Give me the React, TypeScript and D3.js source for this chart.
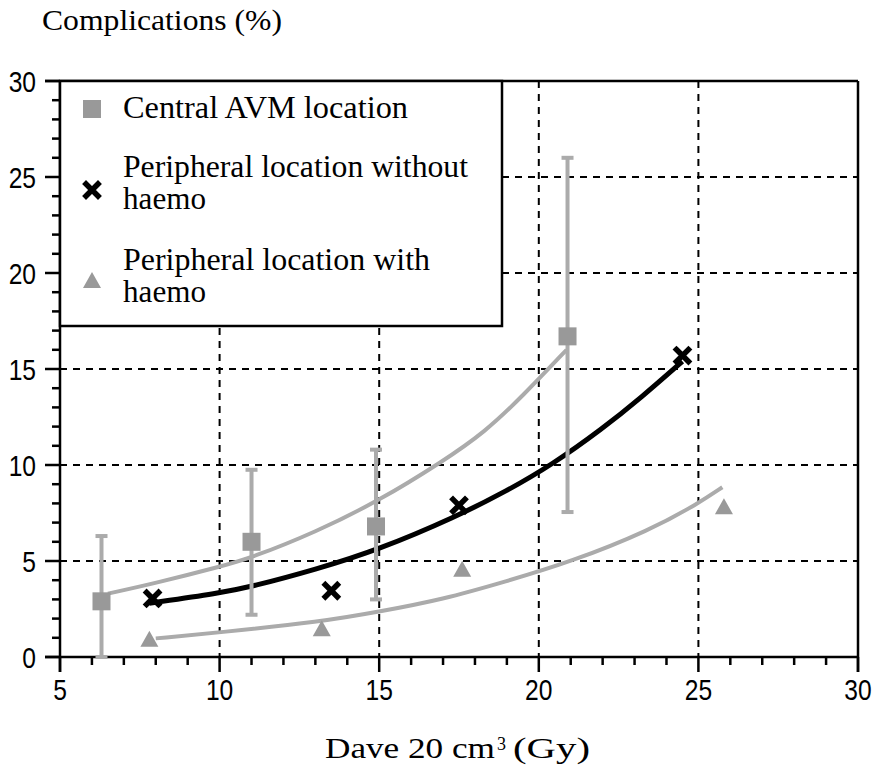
import React from "react";
import * as d3 from "d3";

// Central AVM location: dose (Gy), complication rate (%) with error range
const centralX = [6.3, 11.0, 14.9, 20.9];
const centralY = [2.9, 6.0, 6.8, 16.7];
const centralLow = [0.0, 2.2, 3.0, 7.55];
const centralHigh = [6.3, 9.75, 10.8, 26.0];

// Peripheral location without haemorrhage
const periNoHaemoX = [7.9, 13.5, 17.5, 24.5];
const periNoHaemoY = [3.05, 3.45, 7.9, 15.7];

// Peripheral location with haemorrhage
const periHaemoX = [7.8, 13.2, 17.6, 25.8];
const periHaemoY = [0.9, 1.45, 4.55, 7.8];

// Fitted trend curves (sampled)
const centralFitX = [6.5, 8, 10, 11, 13, 15, 17, 18.3, 19.5, 20.87];
const centralFitY = [3.3, 3.85, 4.7, 5.17, 6.5, 8.14, 10.2, 11.7, 13.6, 16.0];
const noHaemoFitX = [7.8, 10, 11, 13, 15, 17.4, 19, 20.4, 22, 23.2, 24.5];
const noHaemoFitY = [2.8, 3.33, 3.66, 4.55, 5.6, 7.3, 8.65, 10.0, 11.9, 13.5, 15.4];
const haemoFitX = [8, 10, 13.2, 15, 17, 18.94, 21, 23.48, 25, 25.75];
const haemoFitY = [0.97, 1.28, 1.84, 2.36, 3.0, 3.92, 4.95, 6.6, 8.0, 8.84];

const xTicks = [5, 10, 15, 20, 25, 30];
const yTicks = [0, 5, 10, 15, 20, 25, 30];

const legendLabels = [
  ["Central AVM location"],
  ["Peripheral location without", "haemo"],
  ["Peripheral location with", "haemo"],
];

const W = 873;
const H = 770;
const serif = "'Liberation Serif', 'Times New Roman', serif";
const sans = "'Liberation Sans', Arial, sans-serif";
const GREY_MARK = "#999999";
const GREY_LINE = "#ababab";

export default function App() {
  const x = d3.scaleLinear().domain([5, 30]).range([60, 858]);
  const y = d3.scaleLinear().domain([0, 30]).range([657, 81]);

  const line = (xs: number[], ys: number[]) =>
    d3
      .line<number>()
      .x((_, i) => x(xs[i]))
      .y((_, i) => y(ys[i]))
      .curve(d3.curveBasis)(xs.map((_, i) => i)) || "";

  const minorX = d3.range(5, 31, 1);
  const minorY = d3.range(0, 31, 1);

  const square = (cx: number, cy: number, key: string) => (
    <rect key={key} x={cx - 9} y={cy - 9} width={18} height={18} fill={GREY_MARK} />
  );
  const cross = (cx: number, cy: number, key: string) => (
    <path
      key={key}
      d={`M${cx - 6},${cy - 6}L${cx + 6},${cy + 6}M${cx + 6},${cy - 6}L${cx - 6},${cy + 6}`}
      stroke="#000"
      strokeWidth={5.5}
      strokeLinecap="square"
      fill="none"
    />
  );
  const triangle = (cx: number, cy: number, key: string) => (
    <path
      key={key}
      d={`M${cx},${cy - 9}L${cx + 9},${cy + 7}L${cx - 9},${cy + 7}Z`}
      fill={GREY_MARK}
    />
  );

  const gridX = xTicks.filter((v) => v > 5 && v < 30);
  const gridY = yTicks.filter((v) => v > 0 && v < 30);

  return (
    <svg
      width={W}
      height={H}
      style={{ display: "block", position: "fixed", left: 0, top: 0 }}
    >
      <rect width={W} height={H} fill="#fff" />

      {/* grid */}
      <g stroke="#000" strokeWidth={2} strokeDasharray="7,6">
        {gridX.map((v) => (
          <line key={`gx${v}`} x1={x(v)} x2={x(v)} y1={y(30)} y2={y(0)} />
        ))}
        {gridY.map((v) => (
          <line key={`gy${v}`} x1={x(5)} x2={x(30)} y1={y(v)} y2={y(v)} />
        ))}
      </g>

      {/* frame */}
      <g stroke="#000" strokeWidth={2.5} fill="none">
        <line x1={x(5) - 15} x2={x(30)} y1={y(30)} y2={y(30)} />
        <line x1={x(30)} x2={x(30)} y1={y(30)} y2={y(0) + 15} />
        <line x1={x(5) - 15} x2={x(30)} y1={y(0)} y2={y(0)} />
        <line x1={x(5)} x2={x(5)} y1={y(30)} y2={y(0) + 15} />
      </g>

      {/* ticks */}
      <g stroke="#000" strokeWidth={2.5}>
        {minorX.map((v) => (
          <line key={`tx${v}`} x1={x(v)} x2={x(v)} y1={y(0)} y2={y(0) + (v % 5 === 0 ? 15 : 8)} />
        ))}
        {minorY.map((v) => (
          <line key={`ty${v}`} x1={x(5) - (v % 5 === 0 ? 15 : 8)} x2={x(5)} y1={y(v)} y2={y(v)} />
        ))}
      </g>

      {/* tick labels */}
      <g fontFamily={sans} fontSize={30} fill="#000">
        {yTicks.map((v) => (
          <g key={`ly${v}`} transform={`translate(36,${y(v) + 11}) scale(0.82,1)`}>
            <text textAnchor="end">{v}</text>
          </g>
        ))}
        {xTicks.map((v) => (
          <g key={`lx${v}`} transform={`translate(${x(v)},700) scale(0.82,1)`}>
            <text textAnchor="middle">{v}</text>
          </g>
        ))}
      </g>

      {/* legend */}
      <rect x={x(5)} y={y(30)} width={442} height={245} fill="#fff" stroke="#000" strokeWidth={2.5} />
      {square(92, 109, "lg0")}
      {cross(92, 190, "lg1")}
      {triangle(92, 281, "lg2")}
      <g fontFamily={serif} fontSize={31} fill="#000">
        <text x={123} y={118} textLength={285} lengthAdjust="spacingAndGlyphs">
          {legendLabels[0][0]}
        </text>
        <text x={123} y={177} textLength={345} lengthAdjust="spacingAndGlyphs">
          {legendLabels[1][0]}
        </text>
        <text x={123} y={209} textLength={83} lengthAdjust="spacingAndGlyphs">
          {legendLabels[1][1]}
        </text>
        <text x={123} y={270} textLength={307} lengthAdjust="spacingAndGlyphs">
          {legendLabels[2][0]}
        </text>
        <text x={123} y={302} textLength={83} lengthAdjust="spacingAndGlyphs">
          {legendLabels[2][1]}
        </text>
      </g>

      {/* fitted curves */}
      <path d={line(centralFitX, centralFitY)} fill="none" stroke={GREY_LINE} strokeWidth={4} />
      <path d={line(haemoFitX, haemoFitY)} fill="none" stroke={GREY_LINE} strokeWidth={4} />
      <path d={line(noHaemoFitX, noHaemoFitY)} fill="none" stroke="#000" strokeWidth={5} />

      {/* error bars */}
      <g stroke={GREY_LINE} strokeWidth={4}>
        {centralX.map((v, i) => (
          <g key={`eb${i}`}>
            <line x1={x(v)} x2={x(v)} y1={y(centralLow[i])} y2={y(centralHigh[i])} />
            <line x1={x(v) - 6} x2={x(v) + 6} y1={y(centralLow[i])} y2={y(centralLow[i])} />
            <line x1={x(v) - 6} x2={x(v) + 6} y1={y(centralHigh[i])} y2={y(centralHigh[i])} />
          </g>
        ))}
      </g>

      {/* markers */}
      {centralX.map((v, i) => square(x(v), y(centralY[i]), `sq${i}`))}
      {periNoHaemoX.map((v, i) => cross(x(v), y(periNoHaemoY[i]), `cr${i}`))}
      {periHaemoX.map((v, i) => triangle(x(v), y(periHaemoY[i]), `tr${i}`))}

      {/* axis titles */}
      <text x={42} y={30} fontFamily={serif} fontSize={30} textLength={240} lengthAdjust="spacingAndGlyphs">
        Complications (%)
      </text>
      <g fontFamily={serif} fill="#000">
        <text x={325} y={758} fontSize={30} textLength={170} lengthAdjust="spacingAndGlyphs">
          Dave 20 cm
        </text>
        <text x={497} y={750} fontSize={18}>
          3
        </text>
        <text x={513} y={758} fontSize={30} textLength={77} lengthAdjust="spacingAndGlyphs">
          (Gy)
        </text>
      </g>
    </svg>
  );
}
